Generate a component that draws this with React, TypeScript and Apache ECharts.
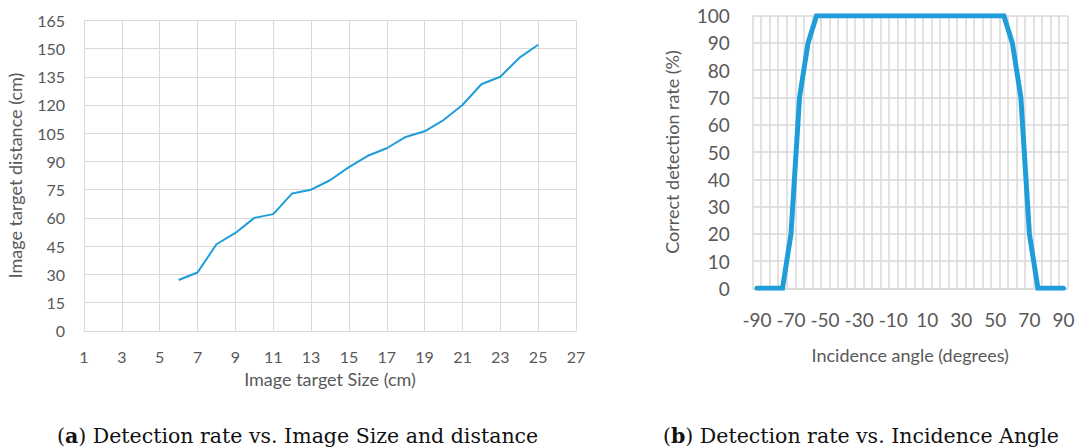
import React, { useEffect, useRef } from "react";
import * as echarts from "echarts";

// Chart (a): image target size (cm) vs image target distance (cm)
const sizeX = [6, 7, 8, 9, 10, 11, 12, 13, 14, 15, 16, 17, 18, 19, 20, 21, 22, 23, 24, 25];
const distanceY = [27, 31, 46, 52, 60, 62, 73, 75, 80, 87, 93, 97, 103, 106, 112, 120, 131, 135, 145, 152];

// Chart (b): incidence angle (degrees) vs correct detection rate (%)
const angles = [
  -90, -85, -80, -75, -70, -65, -60, -55, -50, -45, -40, -35, -30, -25, -20, -15, -10, -5, 0,
  5, 10, 15, 20, 25, 30, 35, 40, 45, 50, 55, 60, 65, 70, 75, 80, 85, 90,
];
const rates = [
  0, 0, 0, 0, 20, 70, 90, 100, 100, 100, 100, 100, 100, 100, 100, 100, 100, 100, 100,
  100, 100, 100, 100, 100, 100, 100, 100, 100, 100, 100, 90, 70, 20, 0, 0, 0, 0,
];

const captionA = "Detection rate vs. Image Size and distance";
const captionB = "Detection rate vs. Incidence Angle";

const LINE = "#1F9DD9";
const GRID = "#D9D9D9";
const TXT = "#595959";
const FONT = "Lato";
const SERIF = "DejaVu Serif";

export default function App() {
  const ref = useRef<HTMLDivElement>(null);
  useEffect(() => {
    if (!ref.current) return;
    const chart = echarts.init(ref.current, null, { renderer: "svg" });
    chart.setOption({
      animation: false,
      backgroundColor: "#ffffff",
      textStyle: { fontFamily: FONT },
      grid: [
        { left: 84, top: 20.3, width: 492, height: 310.5, containLabel: false },
        { left: 752.7, top: 15.7, width: 315, height: 272.6, containLabel: false },
      ],
      xAxis: [
        {
          gridIndex: 0,
          type: "value",
          min: 1,
          max: 27,
          interval: 2,
          name: "Image target Size (cm)",
          nameLocation: "middle",
          nameGap: 38,
          nameTextStyle: { color: TXT, fontSize: 18, fontFamily: FONT },
          axisLine: { show: true, lineStyle: { color: GRID, width: 1 } },
          axisTick: { show: false },
          axisLabel: { color: TXT, fontSize: 16, margin: 18, fontFamily: FONT },
          splitLine: { show: true, lineStyle: { color: GRID, width: 1 } },
        },
        {
          gridIndex: 1,
          type: "category",
          data: angles.map(String),
          boundaryGap: true,
          name: "Incidence angle (degrees)",
          nameLocation: "middle",
          nameGap: 58,
          nameTextStyle: { color: TXT, fontSize: 18, fontFamily: FONT },
          axisLine: { show: true, lineStyle: { color: GRID, width: 1.5 } },
          axisTick: { show: false },
          axisLabel: { color: TXT, fontSize: 19, margin: 22, interval: 3, fontFamily: FONT },
          splitLine: { show: true, interval: 0, lineStyle: { color: GRID, width: 1.5 } },
        },
      ],
      yAxis: [
        {
          gridIndex: 0,
          type: "value",
          min: 0,
          max: 165,
          interval: 15,
          name: "Image target distance (cm)",
          nameLocation: "middle",
          nameGap: 60,
          nameTextStyle: { color: TXT, fontSize: 18, fontFamily: FONT },
          axisLine: { show: false },
          axisTick: { show: false },
          axisLabel: { color: TXT, fontSize: 16, margin: 19, fontFamily: FONT },
          splitLine: { show: true, lineStyle: { color: GRID, width: 1 } },
        },
        {
          gridIndex: 1,
          type: "value",
          min: 0,
          max: 100,
          interval: 10,
          name: "Correct detection rate (%)",
          nameLocation: "middle",
          nameGap: 72,
          nameTextStyle: { color: TXT, fontSize: 18, fontFamily: FONT },
          axisLine: { show: false },
          axisTick: { show: false },
          axisLabel: { color: TXT, fontSize: 19, margin: 23, fontFamily: FONT },
          splitLine: { show: true, lineStyle: { color: GRID, width: 1.5 } },
        },
      ],
      series: [
        {
          type: "line",
          xAxisIndex: 0,
          yAxisIndex: 0,
          data: sizeX.map((x, i) => [x, distanceY[i]]),
          showSymbol: false,
          symbol: "none",
          lineStyle: { color: LINE, width: 2 },
        },
        {
          type: "line",
          xAxisIndex: 1,
          yAxisIndex: 1,
          data: rates,
          showSymbol: false,
          symbol: "none",
          lineStyle: { color: LINE, width: 5, cap: "round", join: "miter" },
        },
      ],
      graphic: [
        {
          type: "text",
          x: 57,
          y: 436,
          style: {
            text: "({b|a}) " + captionA,
            font: "20.5px '" + SERIF + "'",
            fill: "#111111",
            verticalAlign: "middle",
            rich: { b: { fontWeight: "bold", fontSize: 20.5, fontFamily: SERIF, fill: "#111111" } },
          } as any,
        },
        {
          type: "text",
          x: 663,
          y: 436,
          style: {
            text: "({b|b}) " + captionB,
            font: "20.5px '" + SERIF + "'",
            fill: "#111111",
            verticalAlign: "middle",
            rich: { b: { fontWeight: "bold", fontSize: 20.5, fontFamily: SERIF, fill: "#111111" } },
          } as any,
        },
      ],
    });
    return () => chart.dispose();
  }, []);
  return (
    <div
      ref={ref}
      style={{ position: "fixed", left: 0, top: 0, width: 1078, height: 448 }}
    />
  );
}
